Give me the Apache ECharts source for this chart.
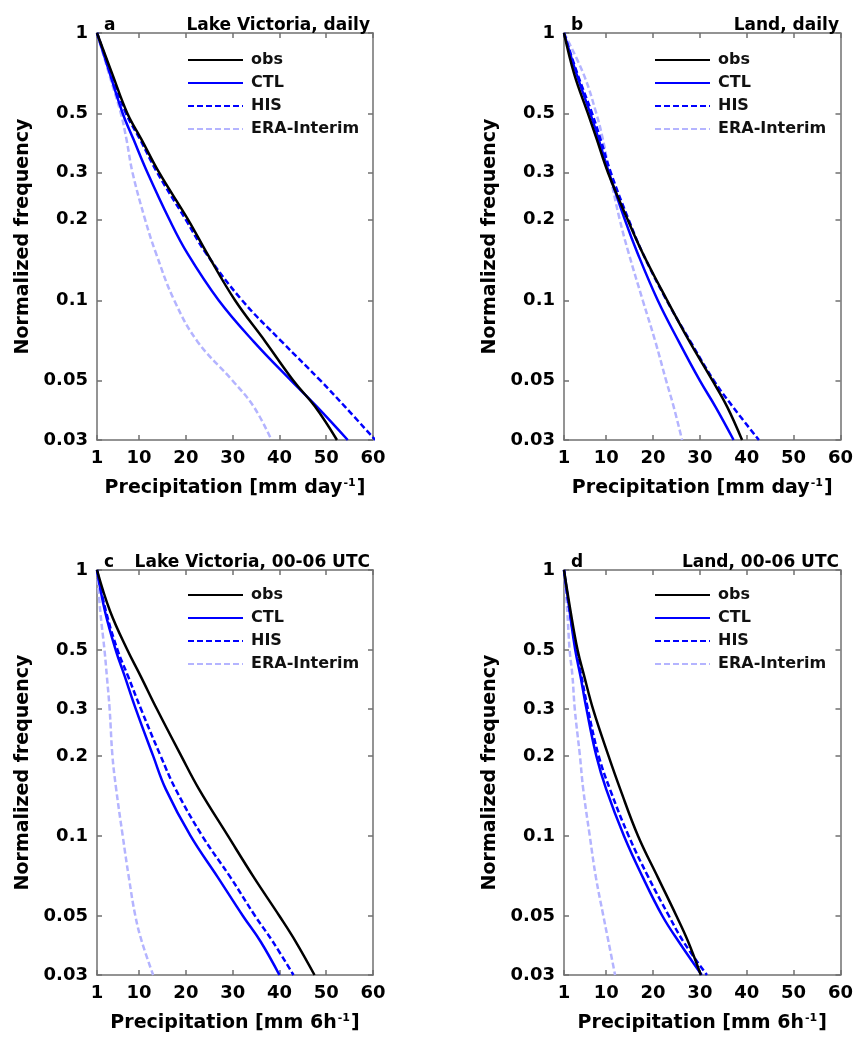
<!DOCTYPE html>
<html>
<head>
<meta charset="utf-8">
<script src="https://cdn.jsdelivr.net/npm/echarts@6/dist/echarts.min.js"></script>
<style>
html,body{margin:0;padding:0;background:#fff;}
#chart{width:856px;height:1040px;}
</style>
</head>
<body>
<div id="chart"></div>
<script>
// Normalized frequency levels at which the curves were read
const FREQ = [1, 0.7, 0.5, 0.4, 0.3, 0.2, 0.15, 0.1, 0.07, 0.05, 0.04, 0.03];

// Panel a: Lake Victoria, daily (precipitation, mm/day, at each FREQ level)
const a_obs = [1, 4.3, 7.5, 10.5, 14.3, 20.5, 24.5, 30.5, 37, 43, 47.6, 52.3];
const a_ctl = [1, 3.8, 6.5, 8.8, 11.8, 16.5, 20.3, 27, 34.5, 42.5, 48, 54.6];
const a_his = [1, 4.1, 7.2, 10.2, 13.9, 20, 24.3, 32, 40.5, 48.8, 54, 60.5];
const a_era = [1, 3.6, 6.1, 7.3, 8.6, 11.3, 13.6, 17.5, 22.5, 30, 34.5, 38.3];

// Panel b: Land, daily
const b_obs = [1, 3.2, 6.1, 8, 10.4, 14.6, 17.8, 23, 27.8, 32.7, 35.8, 39];
const b_ctl = [1, 3.7, 6.6, 8.4, 10.6, 14, 16.7, 21, 25.5, 30, 33.3, 37.2];
const b_his = [1, 3.9, 7, 8.8, 11, 14.8, 17.8, 22.9, 28, 33, 37, 42.6];
const b_era = [1, 5.2, 7.9, 9.3, 10.7, 12.9, 14.8, 17.8, 20.5, 22.8, 24.4, 26.2];

// Panel c: Lake Victoria, 00-06 UTC (mm/6h)
const c_obs = [1, 3.8, 7.5, 10.3, 13.8, 19, 22.8, 29, 34.5, 40, 43.5, 47.5];
const c_ctl = [1, 2.7, 5, 6.9, 9.3, 13, 15.7, 21, 26.8, 32.2, 36, 40];
const c_his = [1, 2.9, 5.4, 7.6, 10.4, 14.6, 17.8, 23.5, 29.5, 34.8, 38.6, 43];
const c_era = [1, 1.7, 2.6, 3.1, 3.7, 4.3, 5.1, 6.5, 7.8, 9.2, 10.6, 13];

// Panel d: Land, 00-06 UTC
const d_obs = [1, 2.4, 3.9, 5.3, 7.2, 10.5, 13, 16.8, 21, 25, 27.5, 30.2];
const d_ctl = [1, 2.2, 3.4, 4.5, 5.8, 7.9, 10, 13.8, 17.8, 22, 25.5, 30.4];
const d_his = [1, 2.2, 3.6, 4.7, 6.1, 8.4, 10.8, 14.8, 19, 23.4, 26.5, 31.5];
const d_era = [1, 1.7, 2.2, 2.8, 3.3, 4.4, 5.1, 6.5, 7.8, 9.4, 10.5, 11.9];

const SERIES_NAMES = ['obs', 'CTL', 'HIS', 'ERA-Interim'];
const X_TICKS = [1, 10, 20, 30, 40, 50, 60];
const Y_TICKS = [0.03, 0.05, 0.1, 0.2, 0.3, 0.5, 1];
const PANEL_LETTERS = ['a', 'b', 'c', 'd'];
const PANEL_TITLES = ['Lake Victoria, daily', 'Land, daily', 'Lake Victoria, 00-06 UTC', 'Land, 00-06 UTC'];
const X_NAMES = ['Precipitation [mm day{s|-1}]', 'Precipitation [mm day{s|-1}]', 'Precipitation [mm 6h{s|-1}]', 'Precipitation [mm 6h{s|-1}]'];
const Y_NAME = 'Normalized frequency';

const panelData = [
  [a_obs, a_ctl, a_his, a_era],
  [b_obs, b_ctl, b_his, b_era],
  [c_obs, c_ctl, c_his, c_era],
  [d_obs, d_ctl, d_his, d_era]
];

const FONT = 'DejaVu Sans';
const BOX = '#707070';
const styles = [
  {color: '#000000', type: 'solid'},
  {color: '#0000ff', type: 'solid'},
  {color: '#0000ff', type: [6, 3]},
  {color: '#b4b4ff', type: [6, 3]}
];

const grids = [
  {left: 97, top: 33, width: 276, height: 407},
  {left: 564, top: 33, width: 278, height: 407},
  {left: 97, top: 570, width: 276, height: 405},
  {left: 564, top: 570, width: 278, height: 405}
];

const xAxes = [], yAxes = [], series = [], titles = [], legends = [];
grids.forEach((g, i) => {
  xAxes.push({
    gridIndex: i, type: 'value', min: 1, max: 60, position: 'bottom',
    axisLine: {show: true, lineStyle: {color: BOX, width: 1.5}},
    axisTick: {show: true, inside: true, length: 5, customValues: X_TICKS, lineStyle: {color: BOX, width: 1.5}},
    axisLabel: {show: true, customValues: X_TICKS, margin: 9, color: '#000', fontFamily: FONT, fontWeight: 'bold', fontSize: 18},
    splitLine: {show: false},
    name: X_NAMES[i], nameLocation: 'middle', nameGap: 38,
    nameTextStyle: {color: '#000', fontFamily: FONT, fontWeight: 'bold', fontSize: 19,
      rich: {s: {fontFamily: FONT, fontWeight: 'bold', fontSize: 11, verticalAlign: 'top', padding: [0, 1, 10, 1], color: '#000'}}}
  });
  xAxes.push({
    gridIndex: i, type: 'value', min: 1, max: 60, position: 'top',
    axisLine: {show: true, lineStyle: {color: BOX, width: 1.5}},
    axisTick: {show: true, inside: true, length: 5, customValues: X_TICKS, lineStyle: {color: BOX, width: 1.5}},
    axisLabel: {show: false}, splitLine: {show: false}
  });
  yAxes.push({
    gridIndex: i, type: 'log', logBase: 10, min: 0.03, max: 1, position: 'left',
    axisLine: {show: true, lineStyle: {color: BOX, width: 1.5}},
    axisTick: {show: true, inside: true, length: 5, customValues: Y_TICKS, lineStyle: {color: BOX, width: 1.5}},
    axisLabel: {show: true, customValues: Y_TICKS, margin: 9, color: '#000', fontFamily: FONT, fontWeight: 'bold', fontSize: 18,
      formatter: v => String(+v.toPrecision(3))},
    splitLine: {show: false},
    name: Y_NAME, nameLocation: 'middle', nameGap: 64, nameRotate: 90,
    nameTextStyle: {color: '#000', fontFamily: FONT, fontWeight: 'bold', fontSize: 19}
  });
  yAxes.push({
    gridIndex: i, type: 'log', logBase: 10, min: 0.03, max: 1, position: 'right',
    axisLine: {show: true, lineStyle: {color: BOX, width: 1.5}},
    axisTick: {show: true, inside: true, length: 5, customValues: Y_TICKS, lineStyle: {color: BOX, width: 1.5}},
    axisLabel: {show: false}, splitLine: {show: false}
  });
  panelData[i].forEach((arr, k) => {
    series.push({
      name: SERIES_NAMES[k], type: 'line', xAxisIndex: 2 * i, yAxisIndex: 2 * i,
      data: arr.map((x, j) => [x, FREQ[j]]),
      symbol: 'none', smooth: 0.4, clip: true,
      lineStyle: {color: styles[k].color, type: styles[k].type, width: 2.5},
      itemStyle: {color: styles[k].color},
      z: 10 - k
    });
  });
  const titleTop = i < 2 ? 12 : 549;
  titles.push({
    text: PANEL_LETTERS[i], left: g.left + 2, top: titleTop,
    textStyle: {fontFamily: FONT, fontWeight: 'bold', fontSize: 17, color: '#000'}
  });
  titles.push({
    text: PANEL_TITLES[i], right: 856 - (g.left + g.width) - 2, top: titleTop,
    textStyle: {fontFamily: FONT, fontWeight: 'bold', fontSize: 17, color: '#000'}
  });
  legends.push({
    left: g.left + 85, top: g.top + (i < 2 ? 14 : 12), orient: 'vertical',
    itemWidth: 55, itemHeight: 14, itemGap: 7,
    data: SERIES_NAMES, selectedMode: false,
    itemStyle: {opacity: 0},
    textStyle: {fontFamily: FONT, fontWeight: 'bold', fontSize: 16, color: '#111', padding: [0, 0, 0, 3]}
  });
});

const chart = echarts.init(document.getElementById('chart'), null, {renderer: 'canvas'});
chart.setOption({
  backgroundColor: '#fff',
  animation: false,
  title: titles,
  legend: legends,
  grid: grids,
  xAxis: xAxes,
  yAxis: yAxes,
  series: series
});
</script>
</body>
</html>
